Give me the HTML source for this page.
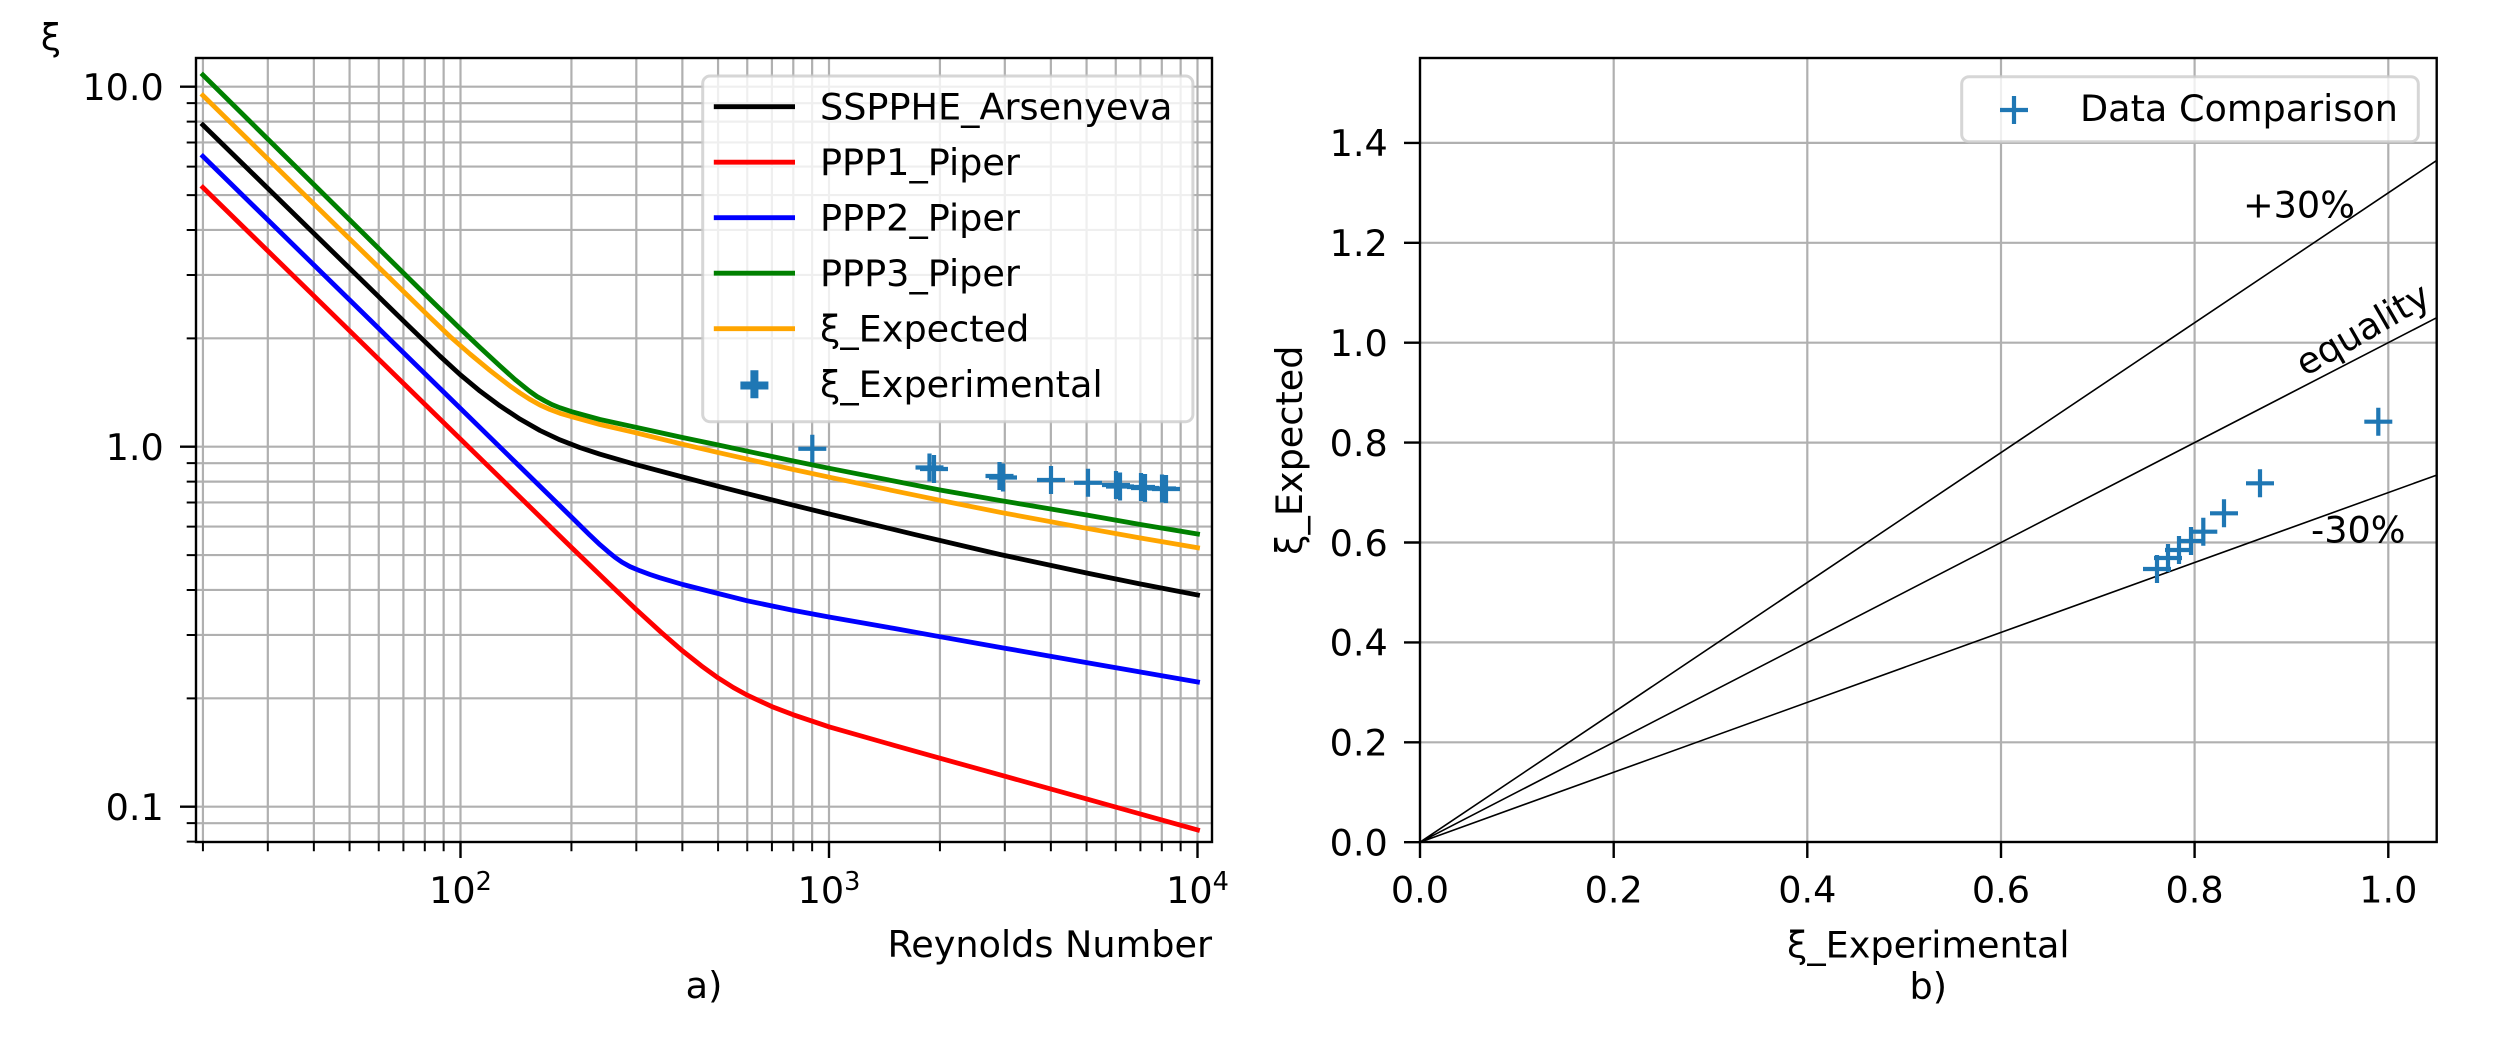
<!DOCTYPE html>
<html>
<head>
<meta charset="utf-8">
<style>
html,body{margin:0;padding:0;background:#fff;}
svg{display:block;}
text{font-family:"DejaVu Sans","Liberation Sans",sans-serif;font-size:36.6px;fill:#000;}
</style>
</head>
<body>
<svg width="2500" height="1051" viewBox="0 0 2500 1051" xmlns="http://www.w3.org/2000/svg">
<rect x="0" y="0" width="2500" height="1051" fill="#fff"/>

<!-- ================= LEFT AXES ================= -->
<path fill="none" stroke="#b0b0b0" stroke-width="2.2" d="
M202.93 58V842 M267.82 58V842 M313.86 58V842 M349.57 58V842 M378.75 58V842 M403.42 58V842 M424.79 58V842 M443.64 58V842
M460.5 58V842
M571.43 58V842 M636.32 58V842 M682.36 58V842 M718.07 58V842 M747.25 58V842 M771.92 58V842 M793.29 58V842 M812.14 58V842
M829 58V842
M939.93 58V842 M1004.82 58V842 M1050.86 58V842 M1086.57 58V842 M1115.75 58V842 M1140.42 58V842 M1161.79 58V842 M1180.64 58V842
M1197.5 58V842
M196 86.7H1212 M196 103.17H1212 M196 121.59H1212 M196 142.46H1212 M196 166.57H1212 M196 195.07H1212 M196 229.96H1212 M196 274.94H1212 M196 338.33H1212
M196 446.7H1212 M196 463.17H1212 M196 481.59H1212 M196 502.46H1212 M196 526.57H1212 M196 555.07H1212 M196 589.96H1212 M196 634.94H1212 M196 698.33H1212
M196 806.7H1212 M196 823.17H1212
"/>

<!-- experimental markers (left) -->
<path fill="none" stroke="#1f77b4" stroke-width="4.2" d="
M798.3 448.8H826.3 M812.3 434.8V462.8
M915.5 467.5H943.5 M929.5 453.5V481.5
M920 469H948 M934 455V483
M985.5 476H1013.5 M999.5 462V490
M989 477.5H1017 M1003 463.5V491.5
M1037 480H1065 M1051 466V494
M1074 482.8H1102 M1088 468.8V496.8
M1102 485H1130 M1116 471V499
M1106 486.5H1134 M1120 472.5V500.5
M1127 487H1155 M1141 473V501
M1131 488H1159 M1145 474V502
M1148 488.5H1176 M1162 474.5V502.5
M1152 489H1180 M1166 475V503
"/>

<!-- curves -->
<g fill="none" stroke-width="4.8" stroke-linejoin="round" stroke-linecap="square">
<polyline stroke="#ff0000" points="202.9,187.5 571.4,547.4 607.1,581.8 636.3,609.6 661,632.2 682.4,650.8 701.3,665.8 718.1,677.9 733.3,687.5 747.3,695.2 771.9,706.6 793.3,714.8 812.3,721.2 829,726.8 893.9,745.3 939.9,758.2 1004.8,776.2 1086.6,798.9 1140.4,814 1197.5,829.9"/>
<polyline stroke="#0000ff" points="202.9,156.4 571.4,517 590,535.3 600,544.7 608,551.6 615,557.3 622,562.2 630,566.6 640,570.8 650,574.5 660,577.8 682.7,584.5 718.1,593.5 747.3,600.8 793.3,610.4 829,617 893.9,628.4 939.9,636.7 1004.8,648.2 1086.6,662.6 1140.4,672 1197.5,682"/>
<polyline stroke="#000000" points="202.9,125 410,327.3 440,356.2 460,374.5 480,391.1 500,405.9 520,419.1 540,430.5 560,439.9 580,447.6 600,454.2 636.7,464.8 682.7,477 718.3,486.3 747.3,493.7 793.3,505.2 829.3,514 914.3,534.4 1000,554.5 1086.6,573 1140.4,584 1197.5,595"/>
<polyline stroke="#ffa500" points="202.9,95.5 429.3,316.7 450,336.5 470,354 490,370.5 510,386 520,393 529.3,399 540,405 550,409.5 560,413.3 571.7,416.7 600,424.5 636.7,433 682.4,444.2 718.3,452.6 793.3,469.5 829.3,477.2 893.9,490.8 940,500.3 1000,512.3 1086.6,528.3 1140.4,538 1197.5,547.7"/>
<polyline stroke="#008000" points="202.9,75 429.3,298.5 460.5,329 480,347.5 500,366 515,379.5 529.3,391 537,396.5 545,401 552,404.6 560,407.8 571.7,411.7 600,419.5 636.7,427.5 682.4,437.5 718.3,445 793.3,461 829.3,468.3 893.9,481 940,490 1000,500.5 1086.6,515 1140.4,524.5 1197.5,534"/>
</g>

<!-- spines -->
<rect x="196" y="58" width="1016" height="784" fill="none" stroke="#000" stroke-width="2.4"/>

<!-- ticks -->
<path fill="none" stroke="#000" stroke-width="2.4" d="
M180 86.7H196 M180 446.7H196 M180 806.7H196
M460.5 842V858 M829 842V858 M1197.5 842V858"/>
<path fill="none" stroke="#000" stroke-width="2" d="
M186.7 103.17H196 M186.7 121.59H196 M186.7 142.46H196 M186.7 166.57H196 M186.7 195.07H196 M186.7 229.96H196 M186.7 274.94H196 M186.7 338.33H196
M186.7 463.17H196 M186.7 481.59H196 M186.7 502.46H196 M186.7 526.57H196 M186.7 555.07H196 M186.7 589.96H196 M186.7 634.94H196 M186.7 698.33H196
M186.7 823.17H196 M186.7 841.59H196
M202.93 842V851.3 M267.82 842V851.3 M313.86 842V851.3 M349.57 842V851.3 M378.75 842V851.3 M403.42 842V851.3 M424.79 842V851.3 M443.64 842V851.3
M571.43 842V851.3 M636.32 842V851.3 M682.36 842V851.3 M718.07 842V851.3 M747.25 842V851.3 M771.92 842V851.3 M793.29 842V851.3 M812.14 842V851.3
M939.93 842V851.3 M1004.82 842V851.3 M1050.86 842V851.3 M1086.57 842V851.3 M1115.75 842V851.3 M1140.42 842V851.3 M1161.79 842V851.3 M1180.64 842V851.3"/>

<!-- tick labels -->
<text x="163.8" y="100" text-anchor="end">10.0</text>
<text x="163.8" y="460" text-anchor="end">1.0</text>
<text x="163.8" y="820" text-anchor="end">0.1</text>
<text x="460.5" y="903" text-anchor="middle">10<tspan dy="-13" font-size="25.6">2</tspan></text>
<text x="829" y="903" text-anchor="middle">10<tspan dy="-13" font-size="25.6">3</tspan></text>
<text x="1197.5" y="903" text-anchor="middle">10<tspan dy="-13" font-size="25.6">4</tspan></text>

<!-- labels -->
<text x="51" y="50" text-anchor="middle">ξ</text>
<text x="1212" y="957" text-anchor="end">Reynolds Number</text>
<text x="704" y="998" text-anchor="middle">a)</text>

<!-- legend (left) -->
<rect x="702.7" y="76" width="490.2" height="345.7" rx="7.3" ry="7.3" fill="rgba(255,255,255,0.8)" stroke="rgba(204,204,204,0.8)" stroke-width="3"/>
<g stroke-width="4.8" fill="none">
<path stroke="#000000" d="M713.8 106.7H795"/>
<path stroke="#ff0000" d="M713.8 162.2H795"/>
<path stroke="#0000ff" d="M713.8 217.7H795"/>
<path stroke="#008000" d="M713.8 273.2H795"/>
<path stroke="#ffa500" d="M713.8 328.7H795"/>
</g>
<path fill="none" stroke="#1f77b4" stroke-width="8" d="M740.4 385.5H768.4 M754.4 370.2V398.2"/>
<text x="820" y="119.3">SSPPHE_Arsenyeva</text>
<text x="820" y="174.8">PPP1_Piper</text>
<text x="820" y="230.3">PPP2_Piper</text>
<text x="820" y="285.8">PPP3_Piper</text>
<text x="820" y="341.3">ξ_Expected</text>
<text x="820" y="396.8">ξ_Experimental</text>

<!-- ================= RIGHT AXES ================= -->
<path fill="none" stroke="#b0b0b0" stroke-width="2.2" d="
M1613.7 58V842 M1807.3 58V842 M2001 58V842 M2194.6 58V842 M2388.3 58V842
M1420 742.3H2436.7 M1420 642.4H2436.7 M1420 542.5H2436.7 M1420 442.6H2436.7 M1420 342.7H2436.7 M1420 242.8H2436.7 M1420 142.9H2436.7"/>

<path fill="none" stroke="#000" stroke-width="1.6" d="
M1420 842.2L2436.7 160.4
M1420 842.2L2436.7 317.7
M1420 842.2L2436.7 475.1"/>

<path fill="none" stroke="#1f77b4" stroke-width="4.2" d="
M2364.3 421.7H2392.3 M2378.3 407.7V435.7
M2246 483.3H2274 M2260 469.3V497.3
M2210 513.3H2238 M2224 499.3V527.3
M2189.3 531.7H2217.3 M2203.3 517.7V545.7
M2177 541H2205 M2191 527V555
M2165 550H2193 M2179 536V564
M2154 558H2182 M2168 544V572
M2143 569H2171 M2157 555V583"/>

<rect x="1420" y="58" width="1016.7" height="784" fill="none" stroke="#000" stroke-width="2.4"/>

<path fill="none" stroke="#000" stroke-width="2.4" d="
M1404 842.2H1420 M1404 742.3H1420 M1404 642.4H1420 M1404 542.5H1420 M1404 442.6H1420 M1404 342.7H1420 M1404 242.8H1420 M1404 142.9H1420
M1420 842V858 M1613.7 842V858 M1807.3 842V858 M2001 842V858 M2194.6 842V858 M2388.3 842V858"/>

<text x="1387.8" y="855.5" text-anchor="end">0.0</text>
<text x="1387.8" y="755.6" text-anchor="end">0.2</text>
<text x="1387.8" y="655.7" text-anchor="end">0.4</text>
<text x="1387.8" y="555.8" text-anchor="end">0.6</text>
<text x="1387.8" y="455.9" text-anchor="end">0.8</text>
<text x="1387.8" y="356" text-anchor="end">1.0</text>
<text x="1387.8" y="256.1" text-anchor="end">1.2</text>
<text x="1387.8" y="156.2" text-anchor="end">1.4</text>
<text x="1420" y="902.7" text-anchor="middle">0.0</text>
<text x="1613.7" y="902.7" text-anchor="middle">0.2</text>
<text x="1807.3" y="902.7" text-anchor="middle">0.4</text>
<text x="2001" y="902.7" text-anchor="middle">0.6</text>
<text x="2194.6" y="902.7" text-anchor="middle">0.8</text>
<text x="2388.3" y="902.7" text-anchor="middle">1.0</text>

<text x="2243" y="217.7">+30%</text>
<text x="2311" y="542.7">-30%</text>
<text transform="translate(2305,377) rotate(-30)">equality</text>

<text transform="translate(1302,450.2) rotate(-90)" text-anchor="middle">ξ_Expected</text>
<text x="1928.3" y="957.5" text-anchor="middle">ξ_Experimental</text>
<text x="1928.3" y="999" text-anchor="middle">b)</text>

<rect x="1961.7" y="76.7" width="456.6" height="65" rx="7.3" ry="7.3" fill="rgba(255,255,255,0.8)" stroke="rgba(204,204,204,0.8)" stroke-width="3"/>
<path fill="none" stroke="#1f77b4" stroke-width="4.2" d="M2000 110H2028 M2014 96V124"/>
<text x="2080" y="121">Data Comparison</text>
</svg>
</body>
</html>
